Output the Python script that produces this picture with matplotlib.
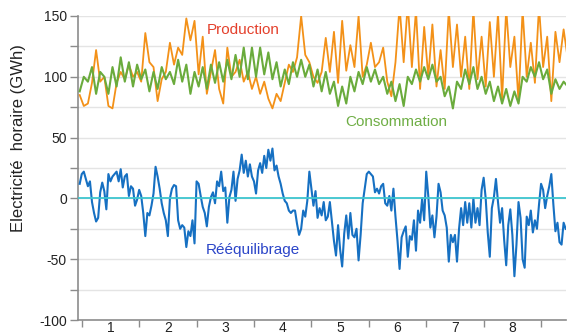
import numpy as np
import matplotlib.pyplot as plt

plt.rcParams['font.family'] = ['Liberation Sans', 'DejaVu Sans']

# hourly electricity (GWh), production and consumption sampled every 12 h
production = [85, 76, 78, 95, 122, 96, 100, 76, 74, 95,
              104, 98, 110, 100, 104, 96, 136, 112, 108, 80,
              98, 104, 128, 110, 124, 118, 148, 130, 146, 102,
              133, 86, 104, 122, 90, 78, 124, 100, 104, 114,
              96, 104, 90, 100, 86, 96, 82, 74, 86, 80,
              95, 110, 104, 116, 150, 118, 112, 100, 95, 104,
              132, 104, 137, 95, 146, 105, 126, 108, 150, 100,
              110, 128, 108, 112, 124, 96, 84, 112, 158, 112,
              160, 108, 155, 90, 141, 100, 143, 92, 122, 90,
              155, 108, 143, 100, 133, 90, 155, 98, 133, 92,
              145, 100, 152, 82, 156, 108, 133, 80, 155, 100,
              128, 95, 158, 108, 133, 80, 137, 112, 139, 115]

consommation = [88, 100, 96, 108, 86, 104, 100, 86, 108, 92,
                116, 96, 112, 92, 110, 98, 106, 88, 104, 90,
                108, 98, 104, 94, 114, 96, 110, 86, 104, 92,
                108, 90, 110, 95, 112, 96, 114, 98, 118, 100,
                124, 98, 124, 100, 124, 102, 120, 98, 112, 92,
                106, 94, 112, 100, 114, 100, 110, 92, 106, 88,
                104, 86, 96, 76, 92, 78, 100, 88, 104, 94,
                108, 96, 106, 94, 100, 86, 96, 80, 94, 76,
                100, 94, 106, 96, 108, 98, 110, 96, 100, 84,
                92, 74, 96, 90, 106, 94, 108, 90, 100, 86,
                96, 80, 92, 78, 90, 76, 88, 78, 100, 96,
                108, 100, 112, 98, 106, 86, 98, 90, 96, 92]

# rebalancing sampled every 6 h
reequilibrage = [12, 20, 22, 16, 10, 14, -3, -12, -19, -16,
                 5, 13, 6, -9, 20, 14, 18, 20, 22, 14,
                 24, 9, 18, 20, 2, 10, 8, -6, -1, 7,
                 2, -12, -31, -12, -14, -6, 4, 26, 18, 8,
                 -4, -12, -18, -31, 0, 8, 11, 10, -18, -25,
                 -22, -24, -40, -27, -31, -18, -37, 14, 12, 2,
                 -7, -12, -23, -7, 1, 5, -4, 14, 10, 22,
                 6, 9, -20, 1, 7, 22, -2, 16, 23, 36,
                 21, 31, 18, 28, 18, 14, 4, 23, 29, 21,
                 35, 25, 40, 31, 41, 23, 27, 18, 12, 4,
                 -2, -4, -10, -12, -10, -10, -21, -30, -25, -10,
                 -15, -2, 22, 8, -6, 6, -16, -8, -14, -3,
                 -18, -15, -3, -19, -35, -47, -22, -42, -56, -29,
                 -14, -33, -12, -30, -32, -25, -51, -30, -4, 8,
                 20, 22, 20, 18, 5, 8, 4, 10, 12, -4,
                 -6, 2, -10, 8, -15, -35, -58, -32, -27, -23,
                 -48, -31, -34, -18, -43, -10, -20, 0, -18, 22,
                 2, -24, -14, -32, -15, 12, 5, -10, -14, -24,
                 -52, -30, -36, -30, -52, -25, -8, -22, -3, -20,
                 -4, -24, 0, -20, -8, -22, 7, 17, 0, -28,
                 -48, -8, 1, 16, -3, -20, -8, -34, -55, -22,
                 -9, -30, -64, -38, -3, -16, -50, -57, -15, -22,
                 -10, -28, -18, -25, -5, 12, 7, -8, 2, 10,
                 20, -5, -27, -20, -36, -38, -20, -25]

weeks = ['1', '2', '3', '4', '5', '6', '7', '8']

t12 = np.arange(len(production)) * 12 - 6
t6 = np.arange(len(reequilibrage)) * 6 - 6

fig = plt.figure(figsize=(5.68, 3.36), dpi=100)
ax = fig.add_axes([0.1373, 0.0476, 0.8592, 0.9048])

ax.plot(t12, production, color='#f39118', lw=1.3, zorder=3)
ax.plot(t12, consommation, color='#6aab3c', lw=1.5, zorder=3)
ax.plot(t6, reequilibrage, color='#1670c2', lw=1.5, zorder=3)
ax.axhline(0, color='#3dc6cf', lw=1.3, zorder=4)

ax.set_xlim(-11, 1417)
ax.set_ylim(-100, 150)

# y axis: ticks every 25, labels every 50
yt = np.arange(-100, 151, 25)
ax.set_yticks(yt)
ax.set_yticklabels([str(v) if v % 50 == 0 else '' for v in yt])
ax.yaxis.grid(True, color='#e4e4e4', lw=1)
ax.set_axisbelow(True)
ax.tick_params(axis='y', length=6, width=1, color='#8c8c8c',
               labelsize=10, labelcolor='#222222', pad=2)

# x axis: week boundaries as ticks, week numbers in between
ax.set_xticks(np.arange(0, 9) * 168)
ax.set_xticklabels([])
ax.set_xticks(np.arange(8) * 168 + 84, minor=True)
ax.set_xticklabels(weeks, minor=True)
ax.tick_params(axis='x', which='major', length=5, width=1, color='#8c8c8c')
ax.tick_params(axis='x', which='minor', length=0, labelsize=10,
               labelcolor='#222222', pad=1)

for s in ['top', 'right']:
    ax.spines[s].set_visible(False)
for s in ['left', 'bottom']:
    ax.spines[s].set_color('#8c8c8c')
    ax.spines[s].set_linewidth(1.2)

ax.text(366, 138.5, 'Production', color='#e4402c', fontsize=11,
        ha='left', va='center')
ax.text(770, 62.8, 'Consommation', color='#6fae45', fontsize=11,
        ha='left', va='center')
ax.text(363, -42.4, 'Rééquilibrage', color='#2b45c8', fontsize=11,
        ha='left', va='center')

fig.text(0.033, 0.59, 'Electricité  horaire (GWh)', rotation=90,
         fontsize=12, ha='center', va='center', color='#222222')

plt.savefig('out.png', dpi=100)
